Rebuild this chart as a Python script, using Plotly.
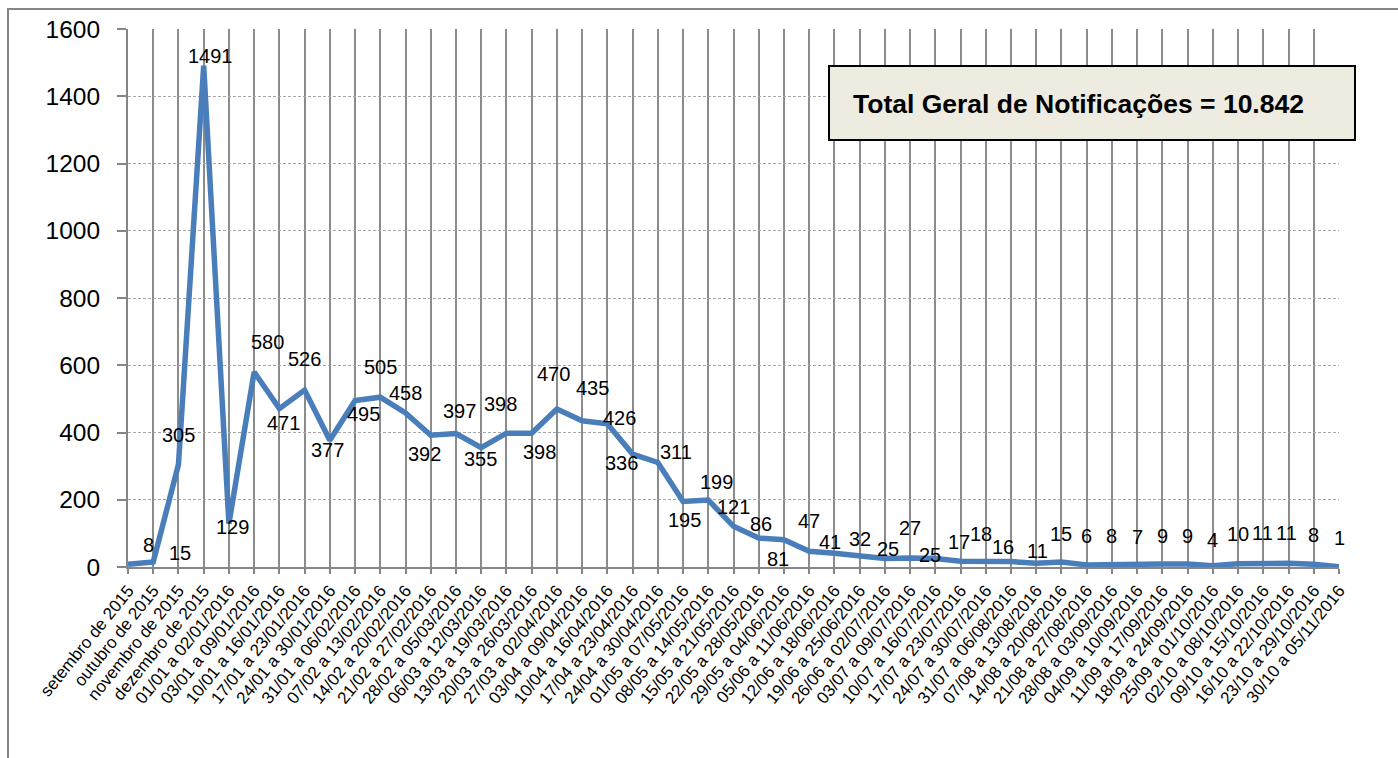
import plotly.graph_objects as go

# ---------------- data ----------------
categories = [
    "setembro de 2015", "outubro de 2015", "novembro de 2015", "dezembro de 2015",
    "01/01 a 02/01/2016", "03/01 a 09/01/2016", "10/01 a 16/01/2016", "17/01 a 23/01/2016",
    "24/01 a 30/01/2016", "31/01 a 06/02/2016", "07/02 a 13/02/2016", "14/02 a 20/02/2016",
    "21/02 a 27/02/2016", "28/02 a 05/03/2016", "06/03 a 12/03/2016", "13/03 a 19/03/2016",
    "20/03 a 26/03/2016", "27/03 a 02/04/2016", "03/04 a 09/04/2016", "10/04 a 16/04/2016",
    "17/04 a 23/04/2016", "24/04 a 30/04/2016", "01/05 a 07/05/2016", "08/05 a 14/05/2016",
    "15/05 a 21/05/2016", "22/05 a 28/05/2016", "29/05 a 04/06/2016", "05/06 a 11/06/2016",
    "12/06 a 18/06/2016", "19/06 a 25/06/2016", "26/06 a 02/07/2016", "03/07 a 09/07/2016",
    "10/07 a 16/07/2016", "17/07 a 23/07/2016", "24/07 a 30/07/2016", "31/07 a 06/08/2016",
    "07/08 a 13/08/2016", "14/08 a 20/08/2016", "21/08 a 27/08/2016", "28/08 a 03/09/2016",
    "04/09 a 10/09/2016", "11/09 a 17/09/2016", "18/09 a 24/09/2016", "25/09 a 01/10/2016",
    "02/10 a 08/10/2016", "09/10 a 15/10/2016", "16/10 a 22/10/2016", "23/10 a 29/10/2016",
    "30/10 a 05/11/2016",
]

notifications = [
    8, 15, 305, 1491, 129, 580, 471, 526, 377, 495, 505, 458, 392, 397, 355, 398,
    398, 470, 435, 426, 336, 311, 195, 199, 121, 86, 81, 47, 41, 32, 25, 27,
    25, 17, 18, 16, 11, 15, 6, 8, 7, 9, 9, 4, 10, 11, 11, 8, 1,
]

y_ticks = [0, 200, 400, 600, 800, 1000, 1200, 1400, 1600]
total_text = "Total Geral de Notificações = 10.842"

# label placement (pixel offsets from each point; style only)
label_dx = [20, 27, 0, 7, 4, 13, 4, 0, -2, 8, 0, 0, -6, 4, -1, -6,
            8, -3, 10, 12, -11, 18, 1, 8, 0, 2, -6, 0, -4, 0, 3, 0,
            -5, -2, -5, -8, 1, 0, 0, 0, 0, 0, 0, 0, 0, -1, -2, 0, 0]
label_dy = [-19, -9, -29, -10, 3, -30, 14, -31, 10, 13, -30, -20, 19, -23, 11, -29,
            19, -35, -33, -6, 9, -10, 19, -18, -19, -14, 19, -30, -11, -17, -10, -30,
            -4, -19, -27, -15, -12, -28, -29, -28, -28, -28, -28, -26, -30, -30, -30, -29, -29]

# ---------------- layout geometry ----------------
W, H = 1398, 758
ML, MR, MT, MB = 128, 59, 29, 191
PW, PH = W - ML - MR, H - MT - MB


def px_x(px):
    return (px - ML) / PW


def px_y(py):
    return (H - MB - py) / PH


FONT = "Arial, Liberation Sans, sans-serif"
x_idx = list(range(len(categories)))

fig = go.Figure()
fig.add_trace(go.Scatter(
    x=x_idx, y=notifications, mode="lines",
    line=dict(color="#4A7EBB", width=5.5),
    hoverinfo="skip", showlegend=False,
))

annotations = []
for i, v in enumerate(notifications):
    annotations.append(dict(
        x=i, y=v, xref="x", yref="y", text=str(v), showarrow=False,
        xanchor="center", yanchor="middle",
        xshift=label_dx[i], yshift=-label_dy[i],
        font=dict(family=FONT, size=20, color="#000000"),
    ))

annotations.append(dict(
    x=px_x(851), y=px_y(104), xref="paper", yref="paper",
    text="<b>" + total_text + "</b>", showarrow=False,
    xanchor="left", yanchor="middle",
    font=dict(family=FONT, size=26.5, color="#000000"),
))

shapes = [
    # outer chart frame
    dict(type="rect", xref="paper", yref="paper",
         x0=px_x(8), x1=px_x(1420), y0=px_y(780), y1=px_y(9),
         line=dict(color="#868686", width=2), fillcolor="rgba(0,0,0,0)", layer="below"),
    # total box
    dict(type="rect", xref="paper", yref="paper",
         x0=px_x(829), x1=px_x(1355), y0=px_y(140), y1=px_y(66),
         line=dict(color="#000000", width=2), fillcolor="#EEECE1", layer="above"),
]

fig.update_layout(
    width=W, height=H, autosize=False,
    margin=dict(l=ML, r=MR, t=MT, b=MB, pad=0),
    paper_bgcolor="#FFFFFF", plot_bgcolor="#FFFFFF",
    font=dict(family=FONT, color="#000000"),
    showlegend=False,
    annotations=annotations,
    shapes=shapes,
    xaxis=dict(
        range=[0, len(categories) - 1],
        tickmode="array", tickvals=x_idx, ticktext=categories,
        tickangle=-51, tickfont=dict(family=FONT, size=17, color="#000000"),
        showgrid=True, gridcolor="#8C8C8C", gridwidth=1.6,
        showline=True, linecolor="#868686", linewidth=2,
        ticks="outside", ticklen=5, tickcolor="#868686", tickwidth=1.5,
        zeroline=False, fixedrange=True,
    ),
    yaxis=dict(
        range=[0, 1600],
        tickmode="array", tickvals=y_ticks, ticktext=[str(t) for t in y_ticks],
        tickfont=dict(family=FONT, size=24.5, color="#000000"),
        showgrid=True, gridcolor="#A6A6A6", gridwidth=1, griddash="3px,2px",
        showline=True, linecolor="#868686", linewidth=2,
        ticks="outside", ticklen=9, tickcolor="#868686", tickwidth=1.5,
        ticklabelstandoff=12,
        zeroline=False, fixedrange=True,
    ),
)

fig.write_html(
    "out.html",
    config={"displayModeBar": False},
    post_script="document.body.style.margin='0';document.body.style.overflow='hidden';",
)
